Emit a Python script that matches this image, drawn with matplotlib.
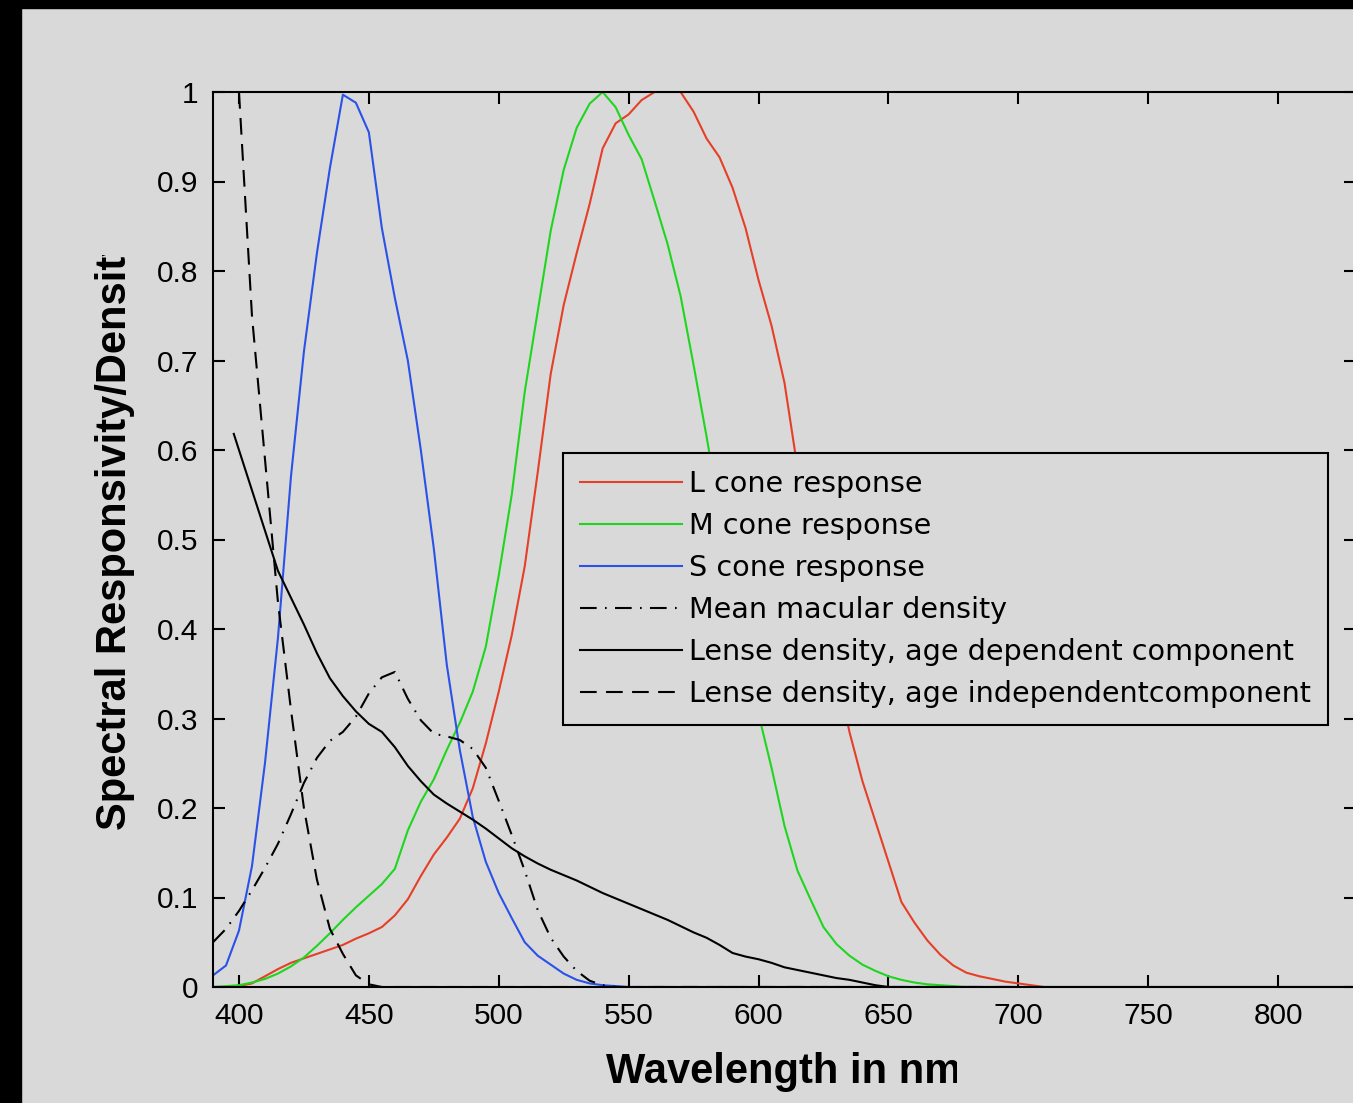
import matplotlib
matplotlib.use("Agg")
import matplotlib.pyplot as plt
from matplotlib.patches import Rectangle
from matplotlib.transforms import Bbox, TransformedBbox

# wavelength grid (nm) shared by the cone curves
wl = [390, 395, 400, 405, 410, 415, 420, 425, 430, 435, 440, 445, 450, 455,
      460, 465, 470, 475, 480, 485, 490, 495, 500, 505, 510, 515, 520, 525,
      530, 535, 540, 545, 550, 555, 560, 565, 570, 575, 580, 585, 590, 595,
      600, 605, 610, 615, 620, 625, 630, 635, 640, 645, 650, 655, 660, 665,
      670, 675, 680, 685, 690, 695, 700, 705, 710, 720, 750, 800, 830]

l_cone = [0.0, 0.0, 0.001, 0.004, 0.012, 0.02, 0.027, 0.032, 0.037, 0.042,
          0.047, 0.054, 0.06, 0.067, 0.08, 0.098, 0.124, 0.148, 0.167, 0.188,
          0.222, 0.272, 0.33, 0.393, 0.47, 0.575, 0.685, 0.762, 0.82, 0.875,
          0.937, 0.965, 0.975, 0.991, 1.0, 1.0, 1.0, 0.978, 0.948, 0.927,
          0.893, 0.848, 0.79, 0.739, 0.675, 0.58, 0.50, 0.43, 0.355, 0.285,
          0.23, 0.185, 0.14, 0.095, 0.072, 0.052, 0.036, 0.024, 0.016, 0.012,
          0.009, 0.006, 0.004, 0.002, 0.0, 0.0, 0.0, 0.0, 0.0]

m_cone = [0.0, 0.001, 0.002, 0.005, 0.009, 0.015, 0.023, 0.033, 0.046, 0.06,
          0.075, 0.089, 0.102, 0.115, 0.132, 0.175, 0.207, 0.232, 0.265,
          0.295, 0.33, 0.38, 0.46, 0.55, 0.665, 0.755, 0.845, 0.913, 0.96,
          0.987, 1.0, 0.983, 0.952, 0.925, 0.878, 0.83, 0.772, 0.695, 0.615,
          0.53, 0.445, 0.365, 0.305, 0.245, 0.18, 0.13, 0.098, 0.067, 0.048,
          0.035, 0.025, 0.018, 0.012, 0.008, 0.005, 0.003, 0.002, 0.001, 0.0,
          0.0, 0.0, 0.0, 0.0, 0.0, 0.0, 0.0, 0.0, 0.0, 0.0]

s_cone = [0.013, 0.024, 0.063, 0.135, 0.25, 0.39, 0.57, 0.71, 0.82, 0.915,
          0.997, 0.988, 0.955, 0.848, 0.77, 0.70, 0.60, 0.49, 0.36, 0.265,
          0.19, 0.14, 0.105, 0.077, 0.05, 0.035, 0.025, 0.015, 0.008, 0.004,
          0.002, 0.001, 0.0, 0.0, 0.0, 0.0, 0.0, 0.0, 0.0, 0.0, 0.0, 0.0, 0.0,
          0.0, 0.0, 0.0, 0.0, 0.0, 0.0, 0.0, 0.0, 0.0, 0.0, 0.0, 0.0, 0.0,
          0.0, 0.0, 0.0, 0.0, 0.0, 0.0, 0.0, 0.0, 0.0, 0.0, 0.0, 0.0, 0.0]

# macular pigment density
mac_wl = [390, 395, 400, 405, 410, 415, 420, 425, 430, 435, 440, 445, 450,
          455, 460, 465, 470, 475, 480, 485, 490, 495, 500, 505, 510, 515,
          520, 525, 530, 535, 540, 545, 600, 700]
macular = [0.05, 0.065, 0.085, 0.108, 0.133, 0.16, 0.193, 0.228, 0.256, 0.275,
           0.285, 0.302, 0.328, 0.346, 0.352, 0.322, 0.298, 0.283, 0.28, 0.276,
           0.266, 0.245, 0.208, 0.17, 0.13, 0.086, 0.055, 0.034, 0.018, 0.007,
           0.002, 0.0, 0.0, 0.0]

# lens density, age dependent part
lens_dep_wl = [398, 400, 405, 410, 415, 420, 425, 430, 435, 440, 445, 450,
               455, 460, 465, 470, 475, 480, 485, 490, 495, 500, 505, 510,
               515, 520, 525, 530, 535, 540, 545, 550, 555, 560, 565, 570,
               575, 580, 585, 590, 595, 600, 605, 610, 615, 620, 625, 630,
               635, 640, 645, 650]
lens_dep = [0.618, 0.60, 0.555, 0.51, 0.465, 0.435, 0.405, 0.373, 0.345,
            0.325, 0.308, 0.294, 0.285, 0.268, 0.247, 0.23, 0.215, 0.205,
            0.196, 0.187, 0.177, 0.166, 0.155, 0.146, 0.138, 0.131, 0.125,
            0.119, 0.112, 0.105, 0.099, 0.093, 0.087, 0.081, 0.075, 0.068,
            0.061, 0.055, 0.047, 0.038, 0.034, 0.031, 0.027, 0.022, 0.019,
            0.016, 0.013, 0.01, 0.008, 0.005, 0.002, 0.0]

# lens density, age independent part
lens_ind_wl = [400, 405, 410, 415, 420, 425, 430, 435, 440, 445, 450, 455,
               500, 600, 700]
lens_ind = [1.0, 0.75, 0.59, 0.43, 0.31, 0.2, 0.12, 0.065, 0.037, 0.013,
            0.003, 0.0, 0.0, 0.0, 0.0]

xticks = [400, 450, 500, 550, 600, 650, 700, 750, 800]
yticks = [0, 0.1, 0.2, 0.3, 0.4, 0.5, 0.6, 0.7, 0.8, 0.9, 1]
ytick_labels = ["0", "0.1", "0.2", "0.3", "0.4", "0.5", "0.6", "0.7", "0.8",
                "0.9", "1"]

bg = "#d9d9d9"
W, H = 1353, 1103

fig = plt.figure(figsize=(W / 100, H / 100), dpi=100, facecolor=bg)
ax = fig.add_axes([213 / W, 1 - 987 / H, (1356 - 213) / W, (987 - 92) / H])
ax.set_facecolor(bg)

lw = 1.5
ax.plot(wl, l_cone, color="#e63f28", lw=lw, label="L cone response")
ax.plot(wl, m_cone, color="#1fd61f", lw=lw, label="M cone response")
ax.plot(wl, s_cone, color="#2a52e8", lw=lw, label="S cone response")
ax.plot(mac_wl, macular, color="black", lw=lw, linestyle=(0, (8, 4, 0.8, 4)),
        label="Mean macular density")
ax.plot(lens_dep_wl, lens_dep, color="black", lw=lw,
        label="Lense density, age dependent component")
ax.plot(lens_ind_wl, lens_ind, color="black", lw=lw, linestyle=(0, (8, 4.5)),
        label="Lense density, age independentcomponent")

ax.set_xlim(390, 830)
ax.set_ylim(0, 1)
ax.set_xticks(xticks)
ax.set_yticks(yticks)
ax.set_yticklabels(ytick_labels)
ax.tick_params(axis="both", direction="in", length=8.5, width=1.5,
               top=True, right=True, pad=10.5, labelsize=21.5)
for lab in ax.get_xticklabels() + ax.get_yticklabels():
    lab.set_family("Liberation Sans")
for sp in ax.spines.values():
    sp.set_linewidth(1.5)

leg = ax.legend(loc="upper left", bbox_to_anchor=(563 / W, 1 - 453 / H),
                bbox_transform=fig.transFigure, borderaxespad=0,
                prop={"family": "DejaVu Sans", "size": 20.6},
                handlelength=3.55, handletextpad=0.25, borderpad=0.6,
                labelspacing=0.49, fancybox=False, framealpha=1,
                facecolor=bg, edgecolor="black")
leg.get_frame().set_linewidth(1.5)

# axis labels, clipped like in the source window
xl = fig.text(784 / W, 1 - 1072 / H, "Wavelength in nm", ha="center",
              va="center", fontsize=30, fontweight="bold",
              family="Liberation Sans")
xl.set_clip_box(TransformedBbox(Bbox([[0, 0], [957 / W, 1]]), fig.transFigure))
xl.set_clip_on(True)
yl = fig.text(115 / W, 1 - 531 / H, "Spectral Responsivity/Density",
              ha="center", va="center", rotation=90, fontsize=30,
              fontweight="bold", family="Liberation Sans")
yl.set_clip_box(TransformedBbox(Bbox([[0, 0], [1, 1 - 255 / H]]),
                                fig.transFigure))
yl.set_clip_on(True)

# black window border on the left and top
fig.patches.append(Rectangle((0, 0), 21 / W, 1, transform=fig.transFigure,
                             color="black", zorder=10))
fig.patches.append(Rectangle((0, 1 - 8 / H), 1, 8 / H,
                             transform=fig.transFigure, color="black",
                             zorder=10))

fig.savefig("out.png", dpi=100, facecolor=bg)
